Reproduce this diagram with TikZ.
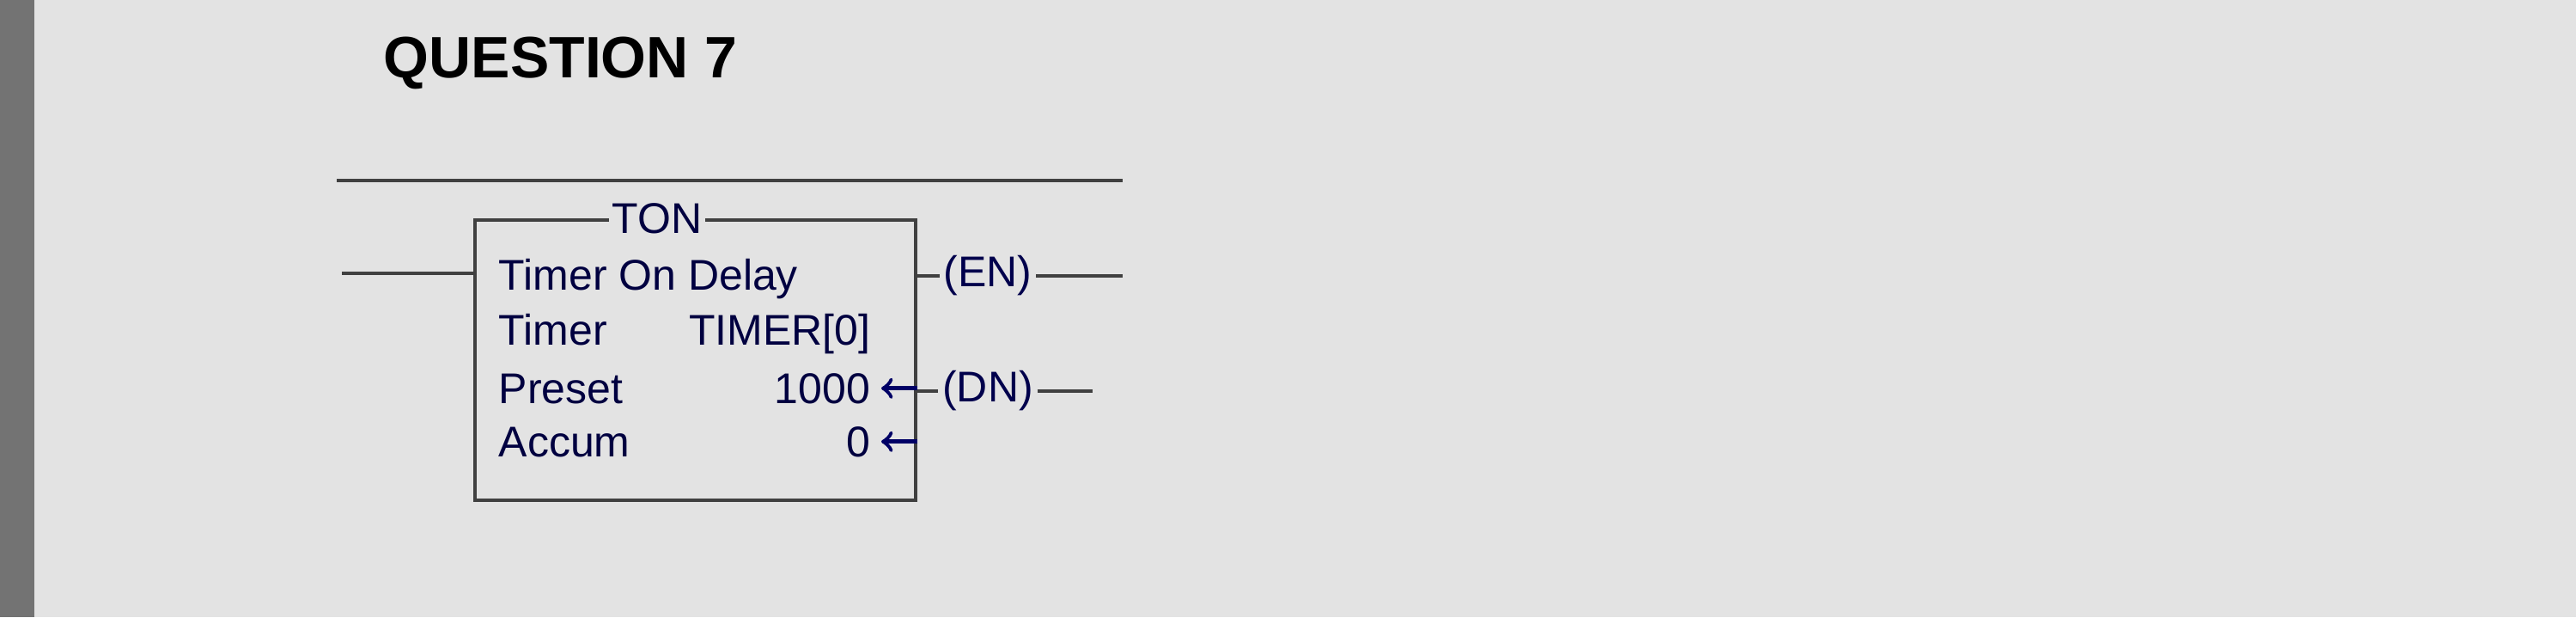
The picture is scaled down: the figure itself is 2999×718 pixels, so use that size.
\documentclass[tikz,border=0pt]{standalone}
\usepackage{fontspec}
\setmainfont{Liberation Sans}
\begin{document}
\begin{tikzpicture}[x=0.25pt,y=-0.25pt,
  wire/.style={line width=1.1pt,draw=black!75},
  lbl/.style={font=\fontsize{12.5}{14}\selectfont,text=blue!25!black,inner sep=0pt},
  coil/.style={font=\fontsize{12.5}{14}\selectfont,text=blue!30!black,inner sep=1pt}]
\fill[gray!22] (0,0) rectangle (2999,718);
\fill[black!55] (0,0) rectangle (40,718);
\useasboundingbox (0,0) rectangle (2999,718);
\node[font=\bfseries\fontsize{17}{20}\selectfont,anchor=west,inner sep=0pt] (q) at (446,73) {QUESTION 7};
\coordinate (r1) at (392,210); \coordinate (r2) at (1307,210);
\draw[wire] (r1) -- (r2);
\node[draw=black!75,line width=1.1pt,minimum width=513*0.25pt,minimum height=326*0.25pt,anchor=north west,inner sep=0pt] (box) at (551,254) {};
\node[lbl,fill=gray!22,inner xsep=1pt] (ton) at (765,254) {TON};
\coordinate (lin) at (398,318);
\draw[wire] (lin) -- (box.west |- lin);
\node[lbl,anchor=base west] (t1) at (580,337) {Timer On Delay};
\node[lbl,anchor=base west] (t2) at (580,401) {Timer};
\node[lbl,anchor=base east] (v2) at (1014,401) {TIMER[0]};
\node[lbl,anchor=base west] (t3) at (580,469) {Preset};
\node[lbl,anchor=base east] (v3) at (1014,469) {1000};
\node[lbl,anchor=base west] (t4) at (580,531) {Accum};
\node[lbl,anchor=base east] (v4) at (1014,531) {0};
\node[coil] (en) at (1150,321) {(EN)};
\node[coil] (dn) at (1150,455) {(DN)};
\coordinate (eno) at (1307,321); \coordinate (dno) at (1272,455);
\draw[wire] (box.east |- en) -- (en.west);
\draw[wire] (en.east) -- (eno);
\draw[wire] (box.east |- dn) -- (dn.west);
\draw[wire] (dn.east) -- (dno);
\draw[line width=1.2pt,blue!40!black,->] (box.east |- v3.center) -- ([xshift=3pt]v3.east);
\draw[line width=1.2pt,blue!40!black,->] (box.east |- v4.center) -- ([xshift=3pt]v4.east);
\end{tikzpicture}
\end{document}
